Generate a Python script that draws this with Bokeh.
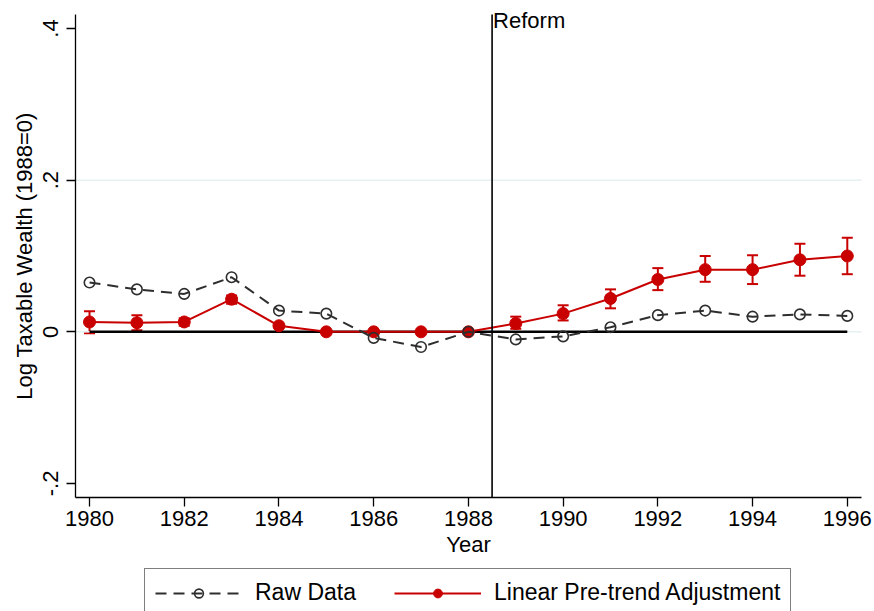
from bokeh.plotting import figure
from bokeh.models import (ColumnDataSource, Range1d, FixedTicker, Whisker, TeeHead,
                          Label, Legend, LegendItem)
from bokeh.embed import file_html
from bokeh.resources import INLINE

years = list(range(1980, 1997))
raw = [0.065, 0.056, 0.050, 0.072, 0.028, 0.024, -0.008, -0.020, 0.0,
       -0.010, -0.006, 0.006, 0.022, 0.028, 0.020, 0.023, 0.021]
adj = [0.013, 0.012, 0.013, 0.043, 0.008, 0.0, 0.0, 0.0, 0.0,
       0.011, 0.024, 0.044, 0.069, 0.082, 0.082, 0.095, 0.100]
adj_hi = [0.027, 0.022, 0.018, 0.048, 0.010, 0.0, 0.0, 0.0, 0.0,
          0.020, 0.035, 0.056, 0.084, 0.100, 0.101, 0.116, 0.124]
adj_lo = [-0.002, 0.002, 0.008, 0.037, 0.006, 0.0, 0.0, 0.0, 0.0,
          0.004, 0.015, 0.031, 0.055, 0.066, 0.063, 0.074, 0.076]
y_ticks = [-0.2, 0.0, 0.2, 0.4]
y_tick_labels = {-0.2: "-.2", 0.0: "0", 0.2: ".2", 0.4: ".4"}
y_grid = [0.0, 0.2]
x_ticks = list(range(1980, 1997, 2))
reform_year = 1988.5
series_names = ["Raw Data", "Linear Pre-trend Adjustment"]

# axis extents (plot region) and the drawing area around them
Y_LO, Y_HI = -0.2185, 0.4185
X_LO, X_HI = 1979.704, 1996.30
PX_PER_Y = 758.2
PX_PER_X = 47.36
Y_VIEW_LO = Y_LO - 114 / PX_PER_Y   # room below for tick labels, title, legend
Y_VIEW_HI = Y_HI + 14 / PX_PER_Y    # room above for the "Reform" note
X_VIEW_LO = X_LO - 75 / PX_PER_X    # room left for the y axis texts
X_VIEW_HI = X_HI + 13 / PX_PER_X

FONT = "Liberation Sans"
RED = "#c80000"
GRAY = "#2e2e2e"
DASH = "11 7"

src = ColumnDataSource(dict(year=years, raw=raw, adj=adj, hi=adj_hi, lo=adj_lo))

p = figure(width=874, height=611, output_backend="svg", toolbar_location=None,
           x_range=Range1d(X_VIEW_LO, X_VIEW_HI), y_range=Range1d(Y_VIEW_LO, Y_VIEW_HI),
           min_border_left=0, min_border_right=0, min_border_top=0, min_border_bottom=0)
p.outline_line_color = None
p.background_fill_color = "white"
p.border_fill_color = "white"

# grid lines limited to the plot region
p.xgrid.grid_line_color = None
p.ygrid.grid_line_color = None
p.segment(x0=X_LO, x1=X_HI, y0=y_grid, y1=y_grid, line_color="#e6eff1", line_width=1.5)

# zero line
p.line([years[0], years[-1]], [0, 0], line_color="black", line_width=2.5)

# adjusted series
w = Whisker(source=src, base="year", upper="hi", lower="lo", line_color=RED, line_width=2,
            upper_head=TeeHead(size=11, line_color=RED, line_width=2),
            lower_head=TeeHead(size=11, line_color=RED, line_width=2))
p.add_layout(w)
r_adj_line = p.line("year", "adj", source=src, line_color=RED, line_width=2)
r_adj_pts = p.scatter("year", "adj", source=src, size=12, fill_color=RED, line_color=RED)

# raw series
r_raw_line = p.line("year", "raw", source=src, line_color=GRAY, line_width=2, line_dash=DASH)
r_raw_pts = p.scatter("year", "raw", source=src, size=10.5, fill_color=None,
                      line_color=GRAY, line_width=1.6)

# reform line
p.line([reform_year, reform_year], [Y_LO, Y_HI], line_color="black", line_width=1.6)
p.add_layout(Label(x=reform_year, y=Y_HI, text="Reform", text_font=FONT,
                   text_font_size="22px", text_baseline="top", text_align="left",
                   x_offset=1, y_offset=7, text_color="black"))

# axes
p.xaxis.fixed_location = Y_LO
p.yaxis.fixed_location = X_LO
p.xaxis.bounds = (X_LO, X_HI)
p.yaxis.bounds = (Y_LO, Y_HI)
p.xaxis.ticker = FixedTicker(ticks=x_ticks)
p.yaxis.ticker = FixedTicker(ticks=y_ticks)
p.yaxis.major_label_overrides = y_tick_labels
p.yaxis.major_label_orientation = "vertical"
p.xaxis.axis_label = "Year"
p.yaxis.axis_label = "Log Taxable Wealth (1988=0)"
for ax in (p.xaxis, p.yaxis):
    ax.axis_line_color = "black"
    ax.axis_line_width = 1.3
    ax.major_tick_line_color = "black"
    ax.major_tick_line_width = 1.3
    ax.major_tick_out = 9
    ax.major_tick_in = 0
    ax.minor_tick_line_color = None
    ax.major_label_text_font = FONT
    ax.major_label_text_font_size = "22px"
    ax.major_label_text_color = "black"
    ax.axis_label_text_font = FONT
    ax.axis_label_text_font_size = "22px"
    ax.axis_label_text_font_style = "normal"
    ax.axis_label_text_color = "black"
p.xaxis.major_label_standoff = 5
p.xaxis.axis_label_standoff = 2
p.yaxis.major_label_standoff = 8
p.yaxis.axis_label_standoff = 4

legend = Legend(items=[
    LegendItem(label=series_names[0], renderers=[r_raw_line, r_raw_pts]),
    LegendItem(label=series_names[1], renderers=[r_adj_line, r_adj_pts]),
], location=(144, -6), orientation="horizontal")
legend.label_text_font = FONT
legend.label_text_font_size = "23px"
legend.label_text_color = "black"
legend.glyph_width = 87
legend.glyph_height = 22
legend.label_standoff = 13
legend.spacing = 38
legend.padding = 10
legend.margin = 0
legend.border_line_color = "black"
legend.border_line_width = 1.2
legend.background_fill_alpha = 1.0
p.add_layout(legend)

open("out.html", "w").write(file_html(p, INLINE))
